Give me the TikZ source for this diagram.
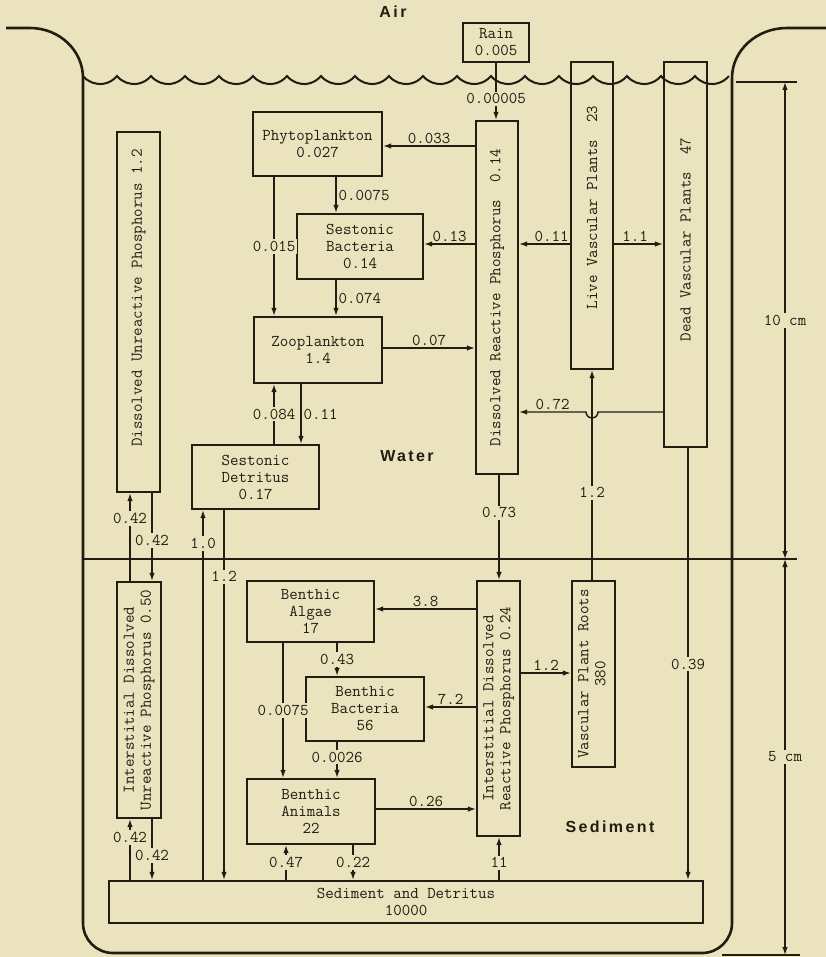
\documentclass[tikz,border=0pt]{standalone}
\usepackage{fontspec}
\usepackage{tikz}
\usetikzlibrary{arrows.meta}
\newfontfamily\regionfont[LetterSpace=15]{Liberation Sans}
\definecolor{paper}{HTML}{EBE3BE}
\definecolor{ink}{HTML}{241B12}
\newcommand{\tyfont}{\ttfamily\fontsize{16.5}{17}\selectfont}

\begin{document}
\begin{tikzpicture}[x=1pt, y=-1pt,
        box/.style={draw=ink, line width=2.2pt, font=\tyfont, text=ink,
                    align=center, inner sep=0pt},
        flow/.style={draw=ink, line width=1.4pt, -{Latex[length=8pt,width=5.5pt]}},
        lbl/.style={font=\tyfont, text=ink, inner sep=2pt},
        val/.style={lbl, fill=paper},
        region/.style={font=\regionfont\bfseries\fontsize{16}{18}\selectfont, text=ink},
        wall/.style={draw=ink, line width=2.6pt},
        dim/.style={draw=ink, line width=1.2pt,
                    {Latex[length=8pt,width=5.5pt]}-{Latex[length=8pt,width=5.5pt]}},
      ]
        \fill[paper] (0,0) rectangle (826,957);
        \useasboundingbox (0,0) rectangle (826,957);

        % vessel and water surface
        \draw[wall] (6,28) -- (30,28) arc[start angle=-90, end angle=0, x radius=53, y radius=50]
          -- (83,923) arc[start angle=180, end angle=90, radius=30]
          -- (702,953) arc[start angle=90, end angle=0, radius=30]
          -- (732,78) arc[start angle=180, end angle=270, x radius=55, y radius=50] -- (826,28);
        \draw[ink, line width=2pt] (83,76)
          \foreach \i in {1,...,19} { arc[start angle=140.6, end angle=39.4, radius=22] };
        \draw[wall] (83,559) -- (797,559);

        % regions
        \node[region] (air) at (393,12) {Air};
        \node[region] (water) at (407,456) {Water};
        \node[region] (sediment) at (610,827) {Sediment};

        % compartments in the water
        \node[box, minimum width=66pt, minimum height=39pt] (rain) at (496,42.5) {Rain\\0.005};
        \node[box, minimum width=129pt, minimum height=64pt] (phyto) at (317.5,144) {Phytoplankton\\0.027};
        \node[box, minimum width=126pt, minimum height=65pt] (sbact) at (360,246.5) {Sestonic\\Bacteria\\0.14};
        \node[box, minimum width=128pt, minimum height=66pt] (zoo) at (318,350) {Zooplankton\\1.4};
        \node[box, minimum width=127pt, minimum height=64pt] (sdet) at (255.5,477) {Sestonic\\Detritus\\0.17};
        \node[box, minimum width=42pt, minimum height=353pt] (drp) at (497,297.5)
          {\rotatebox{90}{Dissolved Reactive Phosphorus~~0.14}};
        \node[box, minimum width=42pt, minimum height=307pt] (lvp) at (592,215.5)
          {\rotatebox{90}{\hspace*{16pt}Live Vascular Plants~~23}};
        \node[box, minimum width=43pt, minimum height=385pt] (dvp) at (685.5,254.5)
          {\rotatebox{90}{\hspace*{30pt}Dead Vascular Plants~~47}};
        \node[box, minimum width=43pt, minimum height=360pt] (dup) at (138.5,312)
          {\rotatebox{90}{\hspace*{28pt}Dissolved Unreactive Phosphorus 1.2}};

        % compartments in the sediment
        \node[box, minimum width=44pt, minimum height=236pt] (iup) at (139,700)
          {\rotatebox{90}{\begin{tabular}{@{}c@{}}Interstitial Dissolved\\Unreactive Phosphorus 0.50\end{tabular}}};
        \node[box, minimum width=43pt, minimum height=255pt] (idrp) at (498.5,708.5)
          {\rotatebox{90}{\begin{tabular}{@{}c@{}}Interstitial Dissolved\\Reactive Phosphorus 0.24\end{tabular}}};
        \node[box, minimum width=43pt, minimum height=186pt] (roots) at (593.5,674)
          {\rotatebox{90}{\begin{tabular}{@{}c@{}}Vascular Plant Roots\\380\end{tabular}}};
        \node[box, minimum width=127pt, minimum height=61pt] (balg) at (310.5,611.5) {Benthic\\Algae\\17};
        \node[box, minimum width=118pt, minimum height=64pt] (bbact) at (365,709) {Benthic\\Bacteria\\56};
        \node[box, minimum width=128pt, minimum height=65pt] (banim) at (311,811.5) {Benthic\\Animals\\22};
        \node[box, minimum width=594pt, minimum height=42pt] (sed) at (406,902) {Sediment and Detritus\\10000};

        % flows in the water
        \draw[flow] (rain.south) -- node[val, pos=0.63] {0.00005} (rain.south |- drp.north);
        \draw[flow] (drp.west |- 0,146) -- node[lbl, above] {0.033} (phyto.east |- 0,146);
        \draw[flow] (drp.west |- 0,244) -- node[lbl, above] {0.13} (sbact.east |- 0,244);
        \draw[flow] (lvp.west |- 0,244) -- node[lbl, above, pos=0.36] {0.11} (drp.east |- 0,244);
        \draw[flow] (lvp.east |- 0,244) -- node[lbl, above, pos=0.43] {1.1} (dvp.west |- 0,244);
        \draw[flow] (zoo.east |- 0,348) -- node[lbl, above] {0.07} (drp.west |- 0,348);
        \draw[flow] (dvp.west |- 0,412) -- (598,412) arc[start angle=0, end angle=180, radius=6]
          -- node[lbl, above] {0.72} (drp.east |- 0,412);
        \draw[flow] (roots.north -| lvp.south) -- node[val, pos=0.415] {1.2} (lvp.south);
        \draw[flow] (phyto.south -| 336,0) -- node[lbl, right] {0.0075} (sbact.north -| 336,0);
        \draw[flow] (phyto.south -| 274,0) -- node[val] {0.015} (zoo.north -| 274,0);
        \draw[flow] (sbact.south -| 336,0) -- node[lbl, right] {0.074} (zoo.north -| 336,0);
        \draw[flow] (sdet.north -| 274,0) -- node[val] {0.084} (zoo.south -| 274,0);
        \draw[flow] (zoo.south -| 301,0) -- node[lbl, right] {0.11} (sdet.north -| 301,0);
        \draw[flow] (drp.south -| 499,0) -- node[val, pos=0.36] {0.73} (idrp.north -| 499,0);

        % exchange across the sediment surface
        \draw[flow] (iup.north -| 130,0) -- node[val, pos=0.71] {0.42} (dup.south -| 130,0);
        \draw[flow] (dup.south -| 152,0) -- node[val, pos=0.54] {0.42} (iup.north -| 152,0);
        \draw[flow] (sed.north -| 203,0) -- node[val, pos=0.91] {1.0} (sdet.south -| 203,0);
        \draw[flow] (sdet.south -| 224,0) -- node[val, pos=0.18] {1.2} (sed.north -| 224,0);
        \draw[flow] (dvp.south -| 688,0) -- node[val] {0.39} (sed.north -| 688,0);

        % flows in the sediment
        \draw[flow] (idrp.west |- 0,609) -- node[lbl, above] {3.8} (balg.east |- 0,609);
        \draw[flow] (idrp.west |- 0,707) -- node[lbl, above] {7.2} (bbact.east |- 0,707);
        \draw[flow] (idrp.east |- 0,673) -- node[lbl, above] {1.2} (roots.west |- 0,673);
        \draw[flow] (balg.south -| 337,0) -- node[val] {0.43} (bbact.north -| 337,0);
        \draw[flow] (balg.south -| 283,0) -- node[val] {0.0075} (banim.north -| 283,0);
        \draw[flow] (bbact.south -| 337,0) -- node[val, pos=0.42] {0.0026} (banim.north -| 337,0);
        \draw[flow] (banim.east |- 0,809) -- node[lbl, above] {0.26} (idrp.west |- 0,809);
        \draw[flow] (sed.north -| 286,0) -- node[val] {0.47} (banim.south -| 286,0);
        \draw[flow] (banim.south -| 353,0) -- node[val] {0.22} (sed.north -| 353,0);
        \draw[flow] (sed.north -| 499,0) -- node[val, pos=0.4] {11} (idrp.south -| 499,0);
        \draw[flow] (sed.north -| 130,0) -- node[val, pos=0.7] {0.42} (iup.south -| 130,0);
        \draw[flow] (iup.south -| 152,0) -- node[val, pos=0.6] {0.42} (sed.north -| 152,0);

        % depth scale
        \coordinate (surfmark) at (785,82);
        \coordinate (bedmark) at (785,559);
        \coordinate (basemark) at (785,955);
        \draw[ink, line width=1.4pt] (736,82) -- (797,82);
        \draw[ink, line width=1.4pt] (722,955) -- (800,955);
        \draw[dim] (bedmark) -- node[val] {10 cm} (surfmark);
        \draw[dim] (bedmark) -- node[val] {5 cm} (basemark);
      \end{tikzpicture}
\end{document}
